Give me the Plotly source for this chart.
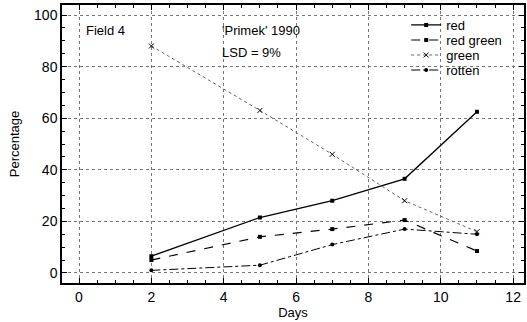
import plotly.graph_objects as go

days = [2, 5, 7, 9, 11]
red = [6.5, 21.5, 28, 36.5, 62.5]
red_green = [5, 14, 17, 20.5, 8.5]
green = [88, 63, 46, 28, 16]
rotten = [1, 3, 11, 17, 15]

x_ticks = [0, 2, 4, 6, 8, 10, 12]
y_ticks = [0, 20, 40, 60, 80, 100]

FONT = "Liberation Sans, Arial, sans-serif"
fig = go.Figure()
fig.add_trace(go.Scatter(x=days, y=red, name="red", mode="lines+markers", legend="legend",
                         showlegend=True,
                         line=dict(color="black", width=1.3, dash="solid"),
                         marker=dict(symbol="square", size=4, color="black")))
fig.add_trace(go.Scatter(x=days, y=red_green, name="red green", mode="lines+markers", legend="legend2",
                         showlegend=True,
                         line=dict(color="black", width=1.2, dash="dash"),
                         marker=dict(symbol="square", size=4, color="black")))
fig.add_trace(go.Scatter(x=days, y=green, name="green", mode="lines+markers", legend="legend3",
                         showlegend=True,
                         line=dict(color="#666", width=1, dash="dot"),
                         marker=dict(symbol="x-thin", size=5, color="black",
                                     line=dict(width=1, color="black"))))
fig.add_trace(go.Scatter(x=days, y=rotten, name="rotten", mode="lines+markers", legend="legend4",
                         showlegend=True,
                         line=dict(color="black", width=1, dash="dashdot"),
                         marker=dict(symbol="circle", size=4, color="black")))

ann_font = dict(family=FONT, size=13, color="black")
fig.add_annotation(x=0.15, y=94, xref="x", yref="y", text="Field 4", showarrow=False,
                   xanchor="left", font=ann_font)
fig.add_annotation(x=3.9, y=94, xref="x", yref="y", text="'Primek' 1990", showarrow=False,
                   xanchor="left", font=ann_font)
fig.add_annotation(x=3.9, y=85.5, xref="x", yref="y", text="LSD = 9%", showarrow=False,
                   xanchor="left", font=ann_font)

axis_common = dict(showline=True, linecolor="black", linewidth=1.5, mirror="allticks",
                   ticks="inside", ticklen=5, tickcolor="black", zeroline=False,
                   showgrid=True, gridcolor="#777", griddash="dot", gridwidth=1,
                   tickfont=dict(family=FONT, size=14, color="black"))

fig.update_xaxes(range=[-0.47, 12.3], tickvals=x_ticks, title=dict(text="Days", standoff=4,
                 font=dict(family=FONT, size=13, color="black")),
                 minor=dict(ticks="inside", ticklen=3, dtick=0.5, tickcolor="black"), **axis_common)
fig.update_yaxes(range=[-3.9, 103.9], tickvals=y_ticks, title=dict(text="Percentage", standoff=12,
                 font=dict(family=FONT, size=13, color="black")),
                 minor=dict(ticks="inside", ticklen=3, dtick=5, tickcolor="black"), **axis_common)

leg_common = dict(x=0.745, xanchor="left", yanchor="middle", bgcolor="rgba(0,0,0,0)",
                  font=dict(family=FONT, size=13, color="black"), itemwidth=30)
row_y = [0.928, 0.874, 0.820, 0.766]
fig.update_layout(width=527, height=322, margin=dict(l=62, r=1, t=5, b=39),
                  paper_bgcolor="white", plot_bgcolor="white", showlegend=True,
                  font=dict(family=FONT, size=13, color="black"),
                  legend=dict(y=row_y[0], **leg_common),
                  legend2=dict(y=row_y[1], **leg_common),
                  legend3=dict(y=row_y[2], **leg_common),
                  legend4=dict(y=row_y[3], **leg_common))
fig.write_html("out.html")
